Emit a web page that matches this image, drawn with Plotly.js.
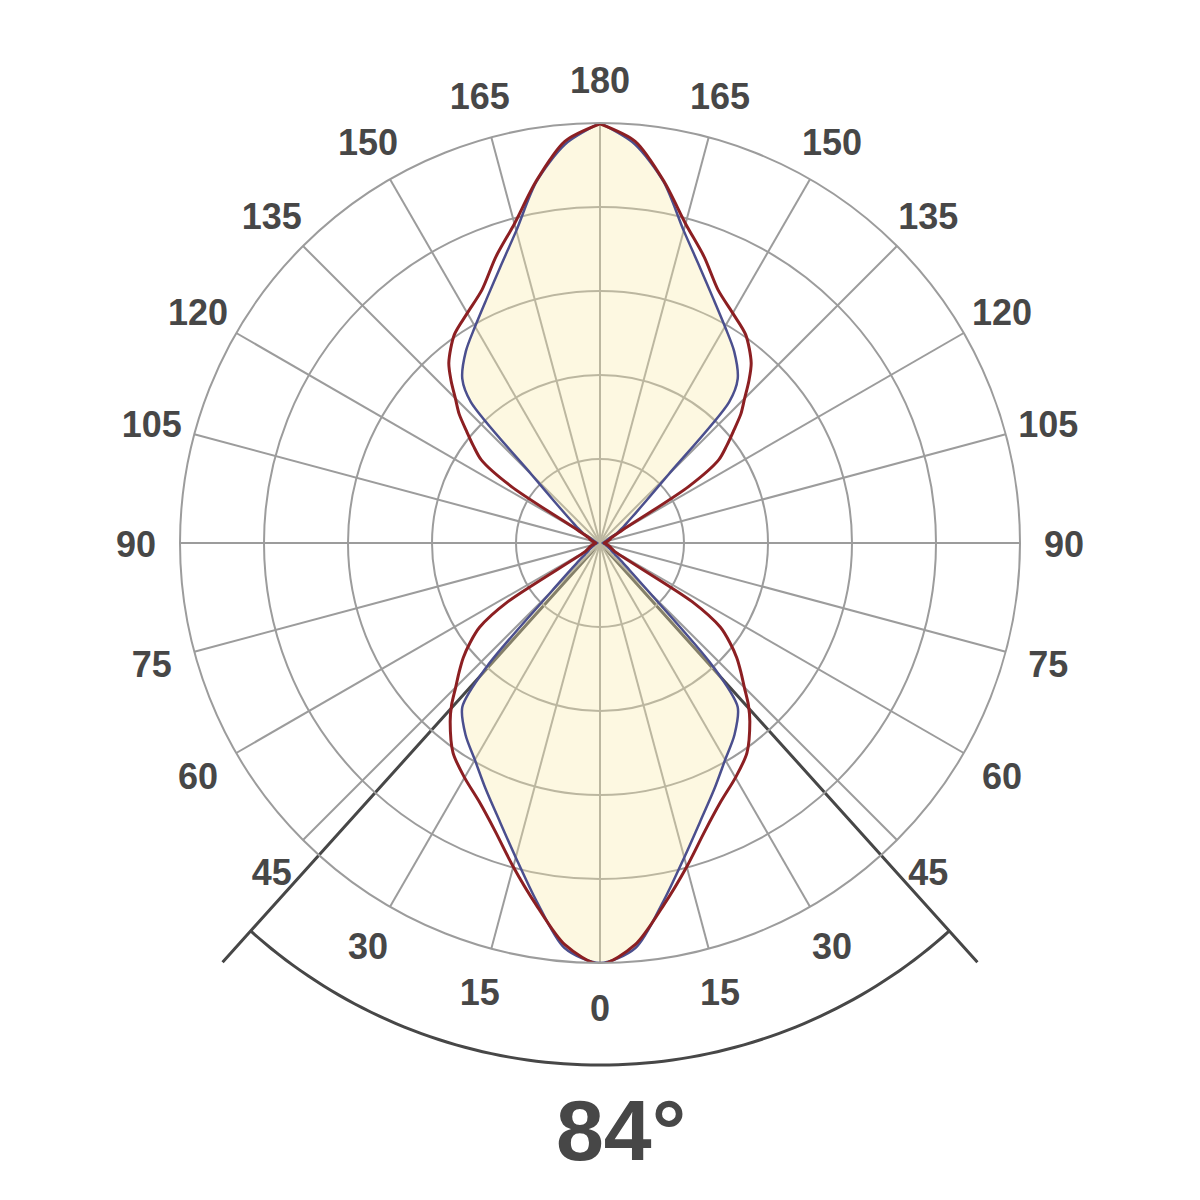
<!DOCTYPE html>
<html>
<head>
<meta charset="utf-8">
<script src="https://cdn.plot.ly/plotly-3.0.1.min.js"></script>
<style>html, body { margin: 0; padding: 0; background: #fff; }</style>
</head>
<body>
<div id="graphDiv" style="width:1200px;height:1200px"></div>
<script>
'use strict';

// gamma angle (deg, 0 = straight down) and relative intensity (% of peak)
const gammaDeg = [0, 5, 10, 15, 20, 25, 30, 35, 40, 42.5, 45, 47.5, 50, 52.5, 55, 57.5, 60, 65, 70, 75, 80, 85, 90,
  95, 100, 105, 110, 115, 120, 122.5, 125, 127.5, 130, 132.5, 135, 137.5, 140, 145, 150, 155, 160, 165, 170, 175, 180];
const blueCurve = [100, 96.8, 86.7, 77.5, 70.2, 64.5, 59.6, 55.8, 51, 39.7, 16.5, 9.5, 6.5, 4.5, 3.5, 3, 2.5, 2, 1.5, 1.2, 1, 0.8, 0.6,
  0.8, 1, 1.2, 1.6, 2.2, 4.6, 5.5, 7, 8.5, 11, 15, 23, 45.5, 51, 55.7, 59.5, 64, 69.7, 77, 87.3, 95.3, 100];
const redCurve = [100.3, 96, 87.5, 79.8, 73, 68, 64.5, 61, 55.5, 52.3, 48.6, 45.5, 42.5, 39, 35, 26, 4, 3, 2.5, 2, 1.5, 1.2, 1,
  1.2, 1.5, 2, 2.5, 3, 6, 25, 34.5, 38, 41.5, 45.5, 48.7, 52.5, 56, 60.5, 63.2, 66.5, 72.5, 78.7, 87.5, 96, 99.8];

const angleTicks = [0, 15, 30, 45, 60, 75, 90, 105, 120, 135, 150, 165, 180, 195, 210, 225, 240, 255, 270, 285, 300, 315, 330, 345];
const angleLabels = angleTicks.map(v => String(v <= 180 ? v : 360 - v));
const ringValues = [20, 40, 60, 80, 100];

const beamAngle = 84;
const beamLineLen = 134.3;
const beamArcRadius = 124.3;
const labelRadius = 110.5;

// curve is symmetric: right half uses gamma, left half the mirror 360 - gamma
function mirrorCurve(gamma, values) {
  let theta = [];
  let r = [];
  for (let i = 0; i < gamma.length; i++) {
    theta.push(gamma[i]);
    r.push(values[i]);
  }
  for (let i = gamma.length - 1; i >= 0; i--) {
    theta.push(360 - gamma[i]);
    r.push(values[i]);
  }
  return { theta, r };
}

let half = beamAngle / 2;
let arcTheta = [];
let arcR = [];
for (let a = -half; a <= half; a += 1) {
  arcTheta.push(a);
  arcR.push(beamArcRadius);
}

let blue = mirrorCurve(gammaDeg, blueCurve);
let red = mirrorCurve(gammaDeg, redCurve);

const inkColor = '#474747';
const gridColor = '#9c9c9c';
const labelFont = 'Liberation Sans, Arial, sans-serif';

let traces = [
  { type: 'scatterpolar', subplot: 'polar', mode: 'lines', r: [beamLineLen, 0, beamLineLen], theta: [-half, 0, half],
    line: { color: inkColor, width: 3 }, hoverinfo: 'skip' },
  { type: 'scatterpolar', subplot: 'polar', mode: 'lines', r: arcR, theta: arcTheta,
    line: { color: inkColor, width: 3 }, hoverinfo: 'skip' },
  { type: 'scatterpolar', subplot: 'polar2', mode: 'lines', r: blue.r, theta: blue.theta, fill: 'toself',
    fillcolor: 'rgba(248,236,170,0.35)', line: { color: '#4b4f8e', width: 2.5, shape: 'spline', smoothing: 0.8 } },
  { type: 'scatterpolar', subplot: 'polar2', mode: 'lines', r: red.r, theta: red.theta,
    line: { color: '#8c1f22', width: 3, shape: 'spline', smoothing: 0.8 } },
  // angle labels, centred on a ring just outside the outer circle
  { type: 'scatterpolar', subplot: 'polar3', mode: 'text', r: angleTicks.map(() => labelRadius), theta: angleTicks,
    text: angleLabels, textposition: 'middle center', cliponaxis: false, hoverinfo: 'skip',
    textfont: { family: labelFont, size: 36, color: inkColor, weight: 'bold' } }
];

let hiddenAngular = { visible: false, rotation: -90, direction: 'counterclockwise' };

let layout = {
  width: 1200,
  height: 1200,
  margin: { l: 0, r: 0, t: 0, b: 0 },
  paper_bgcolor: '#ffffff',
  showlegend: false,
  polar: {
    domain: { x: [0.16588, 0.83412], y: [0.075, 0.5475] },
    sector: [-135, -45],
    bgcolor: 'rgba(0,0,0,0)',
    radialaxis: { visible: false, range: [0, 135] },
    angularaxis: hiddenAngular
  },
  polar2: {
    domain: { x: [0.15, 0.85], y: [0.1975, 0.8975] },
    bgcolor: 'rgba(0,0,0,0)',
    radialaxis: {
      range: [0, 100], tickvals: ringValues, showticklabels: false, ticks: '',
      showline: false, gridcolor: gridColor, gridwidth: 2
    },
    angularaxis: {
      rotation: -90, direction: 'counterclockwise',
      tickvals: angleTicks, showticklabels: false, ticks: '',
      showline: true, linecolor: gridColor, linewidth: 2,
      gridcolor: gridColor, gridwidth: 2
    }
  },
  polar3: {
    domain: { x: [0.0975, 0.9025], y: [0.1408, 0.9458] },
    bgcolor: 'rgba(0,0,0,0)',
    radialaxis: { visible: false, range: [0, 115] },
    angularaxis: hiddenAngular
  },
  annotations: [{
    xref: 'paper', yref: 'paper', x: 0.5175, y: 0.0583, xanchor: 'center', yanchor: 'middle', showarrow: false,
    text: beamAngle + '°',
    font: { family: labelFont, size: 86, color: inkColor, weight: 'bold' }
  }]
};

Plotly.newPlot('graphDiv', traces, layout, { staticPlot: true });
</script>
</body>
</html>
